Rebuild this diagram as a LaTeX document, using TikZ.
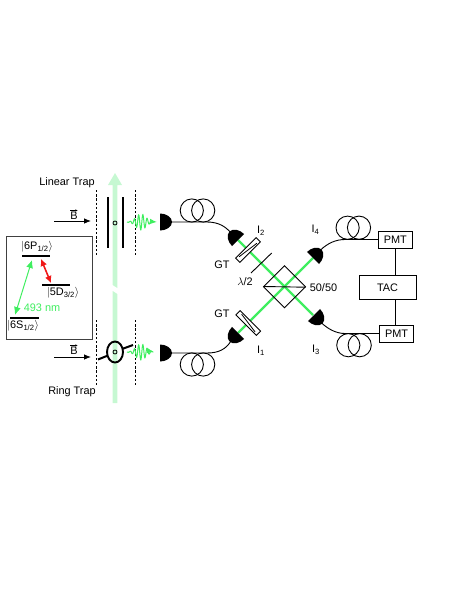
\documentclass[tikz,border=0pt]{standalone}
\usepackage{fontspec}
\usetikzlibrary{arrows.meta}
\setmainfont{Liberation Sans}
\definecolor{beamgreen}{HTML}{3FEE5F}
\definecolor{palegreen}{HTML}{C6F8D2}
\definecolor{levelred}{HTML}{F01818}
\begin{document}
\begin{tikzpicture}[x=1pt, y=-1pt, font=\fontsize{10.9}{12}\selectfont, >={Latex[length=7pt,width=5.5pt]}]
      \tikzset{
        txt/.style={inner sep=0pt},
        instr/.style={draw, line width=0.9pt, inner sep=0pt, minimum width=34pt, minimum height=16.5pt},
        fibre/.style={line width=0.9pt},
        trapline/.style={dashed, dash pattern=on 2.4pt off 1.8pt, line width=0.6pt},
        plate/.style={line width=2pt},
        level/.style={line width=1.8pt},
        laser/.style={beamgreen, line width=2.4pt},
        ion/.style={draw, circle, line width=0.8pt, inner sep=0pt, minimum size=4pt},
        coupler/.pic={\fill (0,-8.5) .. controls (6,-8.5) and (12,-5) .. (12,0) .. controls (12,5) and (6,8.5) .. (0,8.5) -- cycle;},
        loops/.pic={\draw[fibre] (-5.7,0) circle (11.6pt); \draw[fibre] (5.7,0) circle (11.6pt);},
        wavepkt/.pic={\draw[beamgreen, line width=1pt, ->] plot[domain=0:25, samples=100, smooth] (\x, {8*exp(-((\x-14)/7)^2)*sin(\x*85)}) -- (\pgfkeysvalueof{/tikz/pktlen},0);},
        pktlen/.initial=28,
        plateGT/.pic={\draw[line width=0.8pt, fill=white] (-14.5,-3) rectangle (14.5,3); \draw[line width=0.8pt] (-11,-1.5) -- (11,1.5);}
      }
      \useasboundingbox (0,0) rectangle (463,599);

      % Pale pump beam through both traps
      \fill[palegreen] (112.7,403) -- (117.3,403) -- (117.3,294) -- (112.7,291) -- cycle;
      \fill[palegreen] (112.7,285) -- (117.3,288) -- (117.3,185) -- (122,185) -- (115,173) -- (108,185) -- (112.7,185) -- cycle;

      % Dashed trap limits
      \foreach \xd in {96,135} {
        \draw[trapline] (\xd,190) -- (\xd,255);
        \draw[trapline] (\xd,320) -- (\xd,385);
      }

      % Linear trap
      \node[txt] (lintrap) at (67,183) {Linear Trap};
      \draw[plate] (108,197) -- (108,248);
      \draw[plate] (123,197) -- (123,248);
      \node[ion] (ionU) at (115,223) {};
      \coordinate (bU) at (54,221);
      \coordinate (bUend) at (91,221);
      \draw[->, line width=0.8pt] (bU) -- (bUend);
      \node[txt] (fieldU) at (74,216) {B};
      \draw[-{Latex[length=2.5pt,width=2.5pt]}, line width=0.5pt] ([yshift=1.5pt]fieldU.north west) -- ([yshift=1.5pt]fieldU.north east);
      \pic[pktlen=30] at (127,222) {wavepkt};

      % Ring trap
      \node[txt] (ringtrap) at (72,392) {Ring Trap};
      \draw[line width=1.9pt] (115,352) ellipse (8 and 10.5);
      \draw[plate] (98,359.5) -- (108,355.5);
      \draw[plate] (122,349) -- (133,345);
      \node[ion] (ionL) at (115,352) {};
      \coordinate (bL) at (54,357);
      \coordinate (bLend) at (91,357);
      \draw[->, line width=0.8pt] (bL) -- (bLend);
      \node[txt] (fieldL) at (74,351) {B};
      \draw[-{Latex[length=2.5pt,width=2.5pt]}, line width=0.5pt] ([yshift=1.5pt]fieldL.north west) -- ([yshift=1.5pt]fieldL.north east);
      \pic[pktlen=27] at (127,352) {wavepkt};

      % Level scheme
      \draw[line width=0.8pt, black!75] (6.5,236) rectangle (92,339);
      \draw[level] (22,256) -- (50,256);
      \draw[level] (42,285) -- (70,285);
      \draw[level] (10,318) -- (39,318);
      \node[txt] (lvlP) at (37,247) {$|$6P\textsubscript{1/2}$\rangle$};
      \node[txt] (lvlD) at (63,293) {$|$5D\textsubscript{3/2}$\rangle$};
      \node[txt] (lvlS) at (23,326) {$|$6S\textsubscript{1/2}$\rangle$};
      \coordinate (trP) at (32,260);
      \coordinate (trS) at (15,315);
      \coordinate (trPd) at (41,259);
      \coordinate (trD) at (51,283);
      \draw[{Latex[length=8pt,width=7pt]}-{Latex[length=8pt,width=7pt]}, beamgreen, line width=1pt] (trP) -- (trS);
      \draw[{Latex[length=7pt,width=7pt]}-{Latex[length=7pt,width=7pt]}, levelred, line width=1.6pt] (trPd) -- (trD);
      \node[txt, text=beamgreen] (wl) at (42,308) {493 nm};

      % Green beams through the cube
      \coordinate (inU) at (238,240);
      \coordinate (inL) at (238,333);
      \coordinate (outU) at (313,258);
      \coordinate (outL) at (313,315);
      \draw[laser] (inU) -- (outL);
      \draw[laser] (inL) -- (outU);

      % Beam splitter cube
      \draw[line width=0.9pt] (263.5,286.7) -- (284.5,265.7) -- (305.5,286.7) -- (284.5,307.7) -- cycle;
      \draw[line width=0.9pt] (263.5,286.5) -- (305.5,287.2);
      \node[txt] (split) at (323.5,287.5) {50/50};

      % Polarizers and wave plate
      \pic[rotate=45] at (248,250) {plateGT};
      \pic[rotate=-45] at (248.3,323) {plateGT};
      \draw[line width=0.9pt] (251,273) -- (271.7,253);
      \node[txt] (gtU) at (222,265) {GT};
      \node[txt] (gtL) at (222,314) {GT};
      \node[txt] (halfwave) at (245,281.5) {$\lambda$/2};

      % Fibre couplers
      \pic at (160,222) {coupler};
      \pic at (160,353) {coupler};
      \pic[rotate=135] at (238,240) {coupler};
      \pic[rotate=-135] at (238,333) {coupler};
      \pic[rotate=45] at (313,258) {coupler};
      \pic[rotate=-45] at (314,315) {coupler};
      \node[txt] (detII) at (261,231) {I\textsubscript{2}};
      \node[txt] (detI) at (261,351) {I\textsubscript{1}};
      \node[txt] (detIV) at (315.5,230) {I\textsubscript{4}};
      \node[txt] (detIII) at (316,350) {I\textsubscript{3}};

      % Fibres with their loops
      \draw[fibre] (172,222) -- (207,222) .. controls (219,222) and (226,227) .. (231,233);
      \draw[fibre] (172,353) -- (207,353) .. controls (219,353) and (226,349) .. (231,341);
      \pic at (197.5,210.5) {loops};
      \pic at (197.5,364.5) {loops};

      % Counting electronics
      \node[instr] (pmtU) at (395.3,240) {PMT};
      \node[instr] (pmtL) at (396.5,333.8) {PMT};
      \node[instr, minimum width=57pt, minimum height=23.5pt] (tac) at (387.5,287.3) {TAC};
      \coordinate (fibU) at (345,239.5);
      \coordinate (fibL) at (345,333.5);
      \draw[fibre] (320.5,250) .. controls (328,243) and (336,239.5) .. (fibU) -- (pmtU.west |- fibU);
      \draw[fibre] (321,322.5) .. controls (328,329) and (336,333.5) .. (fibL) -- (pmtL.west |- fibL);
      \pic at (353.3,227.7) {loops};
      \pic at (354,345.2) {loops};
      \draw[line width=0.9pt] (pmtU.south) -- (pmtU.south |- tac.north);
      \draw[line width=0.9pt] (pmtU.south |- tac.south) -- (pmtU.south |- pmtL.north);
    \end{tikzpicture}
\end{document}
